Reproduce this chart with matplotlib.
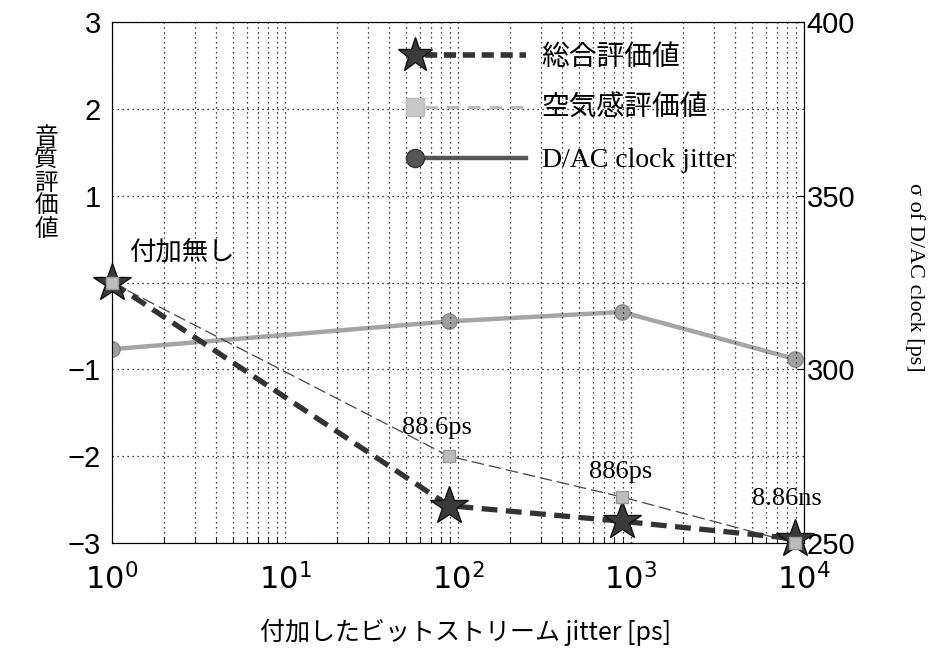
import matplotlib
matplotlib.use("Agg")
import matplotlib.pyplot as plt
from matplotlib.lines import Line2D
from matplotlib.legend_handler import HandlerLine2D
from matplotlib.ticker import LogLocator
import numpy as np

# ---- data ----
jitter_ps = [1, 88.6, 886, 8860]
overall_score = [0.0, -2.57, -2.75, -2.95]        # 総合評価値
spaciousness_score = [0.0, -2.0, -2.47, -3.0]     # 空気感評価値
dac_clock_sigma = [305.8, 313.8, 316.5, 303.0]    # σ of D/AC clock [ps]
point_labels = ["付加無し", "88.6ps", "886ps", "8.86ns"]
left_ticks = [-3, -2, -1, 0, 1, 2, 3]
left_ticklabels = ["−3", "−2", "−1", "", "1", "2", "3"]
right_ticks = [250, 300, 350, 400]
series_names = ["総合評価値", "空気感評価値", "D/AC clock jitter"]

plt.rcParams["mathtext.fontset"] = "custom"
plt.rcParams["mathtext.rm"] = "Liberation Sans"
plt.rcParams["mathtext.it"] = "Liberation Sans"
plt.rcParams["mathtext.bf"] = "Liberation Sans"

JP = ["Noto Sans CJK JP", "DejaVu Sans"]
SERIF = ["Liberation Serif", "Noto Sans CJK JP"]


class MarkerLeftHandler(HandlerLine2D):
    def create_artists(self, legend, orig_handle, xdescent, ydescent, width, height,
                       fontsize, trans):
        y = (height - ydescent) / 2
        x0 = -xdescent
        x1 = width - xdescent
        line = Line2D([x0 + 0.17 * width, x1], [y, y])
        self.update_prop(line, orig_handle, legend)
        line.set_marker("None")
        mk = Line2D([x0 + 0.09 * width], [y])
        self.update_prop(mk, orig_handle, legend)
        mk.set_linestyle("None")
        line.set_transform(trans)
        mk.set_transform(trans)
        return [line, mk]


fig = plt.figure(figsize=(9.32, 6.54), dpi=100)
ax = fig.add_axes([112/932, 1 - 543/654, (804-112)/932, (543-22)/654])
ax.set_xscale("log")
ax.set_xlim(1, 1e4)
ax.set_ylim(-3, 3)

# grid
ax.xaxis.set_minor_locator(LogLocator(base=10, subs=np.arange(2, 10)))
ax.grid(True, which="major", axis="both", linestyle=(0, (1, 3)), color="black", linewidth=0.9)
ax.grid(True, which="minor", axis="x", linestyle=(0, (1, 3)), color="black", linewidth=0.9)

ax.set_yticks(left_ticks)
ax.set_yticklabels(left_ticklabels, fontsize=21, family="Liberation Sans")
ax.tick_params(axis="both", which="both", direction="in")
ax.tick_params(axis="y", length=0, pad=8)
ax.tick_params(axis="x", which="major", length=0, labelsize=22, pad=14)
ax.tick_params(axis="x", which="minor", length=4)

ax2 = ax.twinx()
ax2.set_ylim(250, 400)
ax2.set_yticks(right_ticks)
ax2.set_yticklabels([str(t) for t in right_ticks], fontsize=21, family="Liberation Sans")
ax2.tick_params(axis="y", direction="in", length=5, pad=2)

# series
ax2.plot(jitter_ps, dac_clock_sigma, color="#a5a5a5", linewidth=3.2, marker="o",
         markersize=11, markerfacecolor="#a0a0a0", markeredgecolor="#888888", zorder=3)
ax.plot(jitter_ps, spaciousness_score, color="#444444", linewidth=0.9, linestyle=(0, (10, 4)),
        zorder=3)
ax.plot(jitter_ps, overall_score, color="#333333", linewidth=3.8, linestyle=(0, (3, 1.6)),
        marker="*", markersize=29, markerfacecolor="#3a3a3a", markeredgecolor="#111111",
        zorder=4, clip_on=False)
ax.plot(jitter_ps, spaciousness_score, linestyle="none", marker="s", markersize=9,
        markerfacecolor="#bdbdbd", markeredgecolor="#999999", zorder=5, clip_on=False)

ax.set_zorder(ax2.get_zorder() + 1)
ax.patch.set_visible(False)

# point annotations
ax.text(1.25, 0.2, point_labels[0], fontsize=19, family=JP, va="bottom", ha="left")
ax.text(jitter_ps[1] * 0.85, -1.8, point_labels[1], fontsize=19, family=SERIF, va="bottom", ha="center")
ax.text(jitter_ps[2] * 0.98, -2.31, point_labels[2], fontsize=19, family=SERIF, va="bottom", ha="center")
ax.text(jitter_ps[3] * 0.9, -2.62, point_labels[3], fontsize=19, family=SERIF, va="bottom", ha="center")

# legend (marker at left end of handle)
h1 = Line2D([], [], color="#333333", linewidth=4, linestyle=(0, (2.2, 1.2)), marker="*",
            markersize=26, markerfacecolor="#3a3a3a", markeredgecolor="#111111")
h2 = Line2D([], [], color="#bbbbbb", linewidth=2.2, linestyle=(0, (4, 3)), marker="s",
            markersize=13, markerfacecolor="#c8c8c8", markeredgecolor="#bbbbbb")
h3 = Line2D([], [], color="#555555", linewidth=3.2, linestyle="-", marker="o",
            markersize=13, markerfacecolor="#555555", markeredgecolor="#333333")
leg = ax.legend([h1, h2, h3], series_names, loc="upper left",
                bbox_to_anchor=((404-112)/692, (543-45)/521), frameon=False,
                handler_map={Line2D: MarkerLeftHandler()},
                handlelength=4.4, handletextpad=0.55, labelspacing=0.92,
                prop={"family": SERIF, "size": 20}, borderaxespad=0, borderpad=0)

# axis labels
fig.text(46/932, 1 - 183/654, "\n".join("音質評価値"), fontsize=17, family=JP,
         ha="center", va="center", linespacing=1.0)
fig.text(915/932, 1 - 277/654, "σ of D/AC clock [ps]", fontsize=16,
         family=["Liberation Serif", "DejaVu Serif"], rotation=-90, ha="center", va="center")
fig.text(466/932, 1 - 632/654, "付加したビットストリーム jitter [ps]", fontsize=18, family=JP,
         ha="center", va="center")

fig.savefig("out.png", dpi=100)
